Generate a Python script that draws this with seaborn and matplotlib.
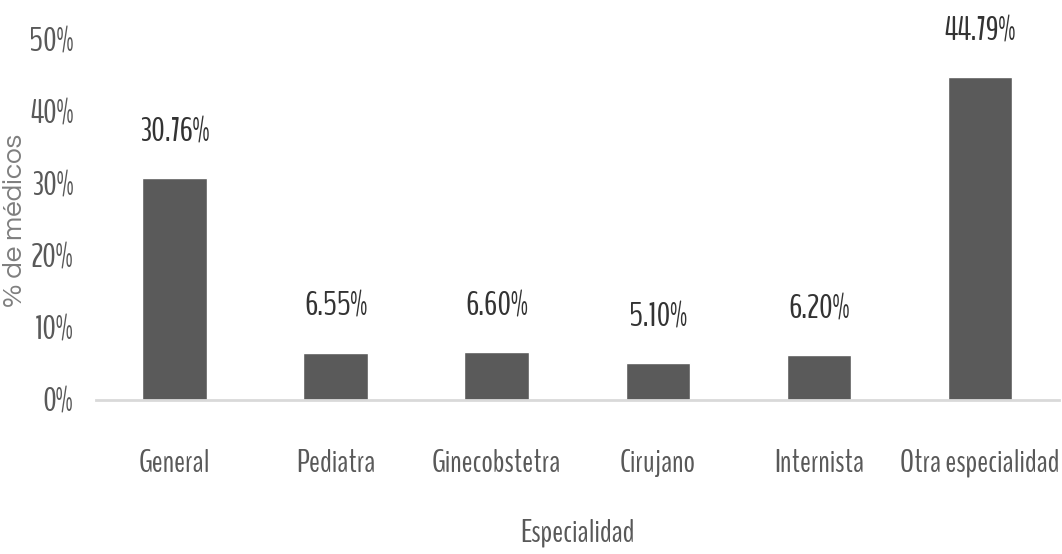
import numpy as np
import pandas as pd
import matplotlib
matplotlib.use("Agg")
import matplotlib.pyplot as plt
import seaborn as sns
from matplotlib import font_manager

# data
especialidades = ["General", "Pediatra", "Ginecobstetra", "Cirujano", "Internista", "Otra especialidad"]
porcentajes = [30.76, 6.55, 6.60, 5.10, 6.20, 44.79]
etiquetas = ["30.76%", "6.55%", "6.60%", "5.10%", "6.20%", "44.79%"]
yticks = [0, 10, 20, 30, 40, 50]

df = pd.DataFrame({"Especialidad": especialidades, "pct": porcentajes})

sns.set_style("white")
names = {f.name for f in font_manager.fontManager.ttflist}


def pick(cands):
    for c in cands:
        if c in names:
            return c
    return "DejaVu Sans"


narrow = pick(["BenchNine", "Sofia Sans Extra Condensed", "Roboto Condensed"])
wide = pick(["Questrial", "Didact Gothic", "Montserrat", "DejaVu Sans"])
plt.rcParams['font.family'] = [narrow, 'DejaVu Sans']

fig = plt.figure(figsize=(10.62, 5.54), dpi=100)
ax = fig.add_axes([0.090, 0.278, 0.907, 0.650])

sns.barplot(data=df, x="Especialidad", y="pct", color="#5a5a5a", width=0.4,
            saturation=1, ax=ax)

# data labels above bars
for i, (v, t) in enumerate(zip(porcentajes, etiquetas)):
    ax.annotate(t, (i, v), xytext=(0, 33), textcoords="offset points",
                ha="center", va="center", fontsize=24, color="#333333")

ax.set_ylim(0, 50)
ax.set_xlim(-0.49, 5.49)
ax.set_yticks(yticks)
ax.set_yticklabels([f"{t}%" for t in yticks], fontsize=24, color="#595959")
ax.tick_params(axis="x", labelsize=23, labelcolor="#595959", pad=35, length=0)
ax.tick_params(axis="y", pad=16, length=0)

for s in ["top", "right", "left"]:
    ax.spines[s].set_visible(False)
ax.spines["bottom"].set_color("#d9d9d9")
ax.spines["bottom"].set_linewidth(2)

ax.set_xlabel("Especialidad", fontsize=23, color="#595959", labelpad=30)
ax.set_ylabel("% de médicos", fontsize=20, color="#7f7f7f", family=[wide, "DejaVu Sans"])
ax.yaxis.set_label_coords(-0.071, 0.5)

fig.savefig("out.png", dpi=100)
